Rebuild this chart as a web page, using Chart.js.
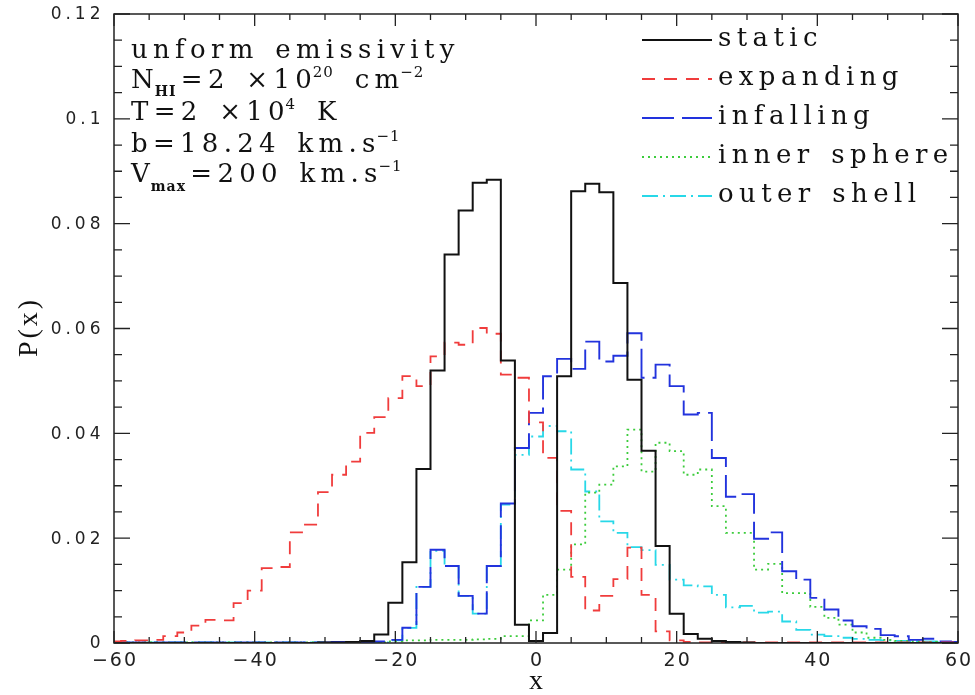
<!DOCTYPE html>
<html>
<head>
<meta charset="utf-8">
<script src="https://cdn.jsdelivr.net/npm/chart.js@4.4.1/dist/chart.umd.min.js"></script>
<style>
  html, body { margin: 0; padding: 0; background: #fff; }
  canvas { display: block; }
</style>
</head>
<body>
<canvas id="chart" width="975" height="695"></canvas>
<script>
// Bin centres, step 2, from -60 to 60
const xCenters = [
  -60, -58, -56, -54, -52, -50, -48, -46, -44, -42, -40, -38, -36, -34, -32, -30,
  -28, -26, -24, -22, -20, -18, -16, -14, -12, -10, -8, -6, -4, -2, 0,
  2, 4, 6, 8, 10, 12, 14, 16, 18, 20, 22, 24, 26, 28, 30,
  32, 34, 36, 38, 40, 42, 44, 46, 48, 50, 52, 54, 56, 58, 60,
];

// P(x) per bin
const staticVals = [
  0, 0, 0, 0, 0, 0, 0, 0, 0, 0, 0, 0, 0, 0, 0, 0.0001,
  0.0001, 0.0002, 0.0004, 0.0016, 0.0077, 0.0154, 0.0332, 0.0520, 0.0741, 0.0825, 0.0878, 0.0884, 0.0539, 0.0035, 0.0004,
  0.0019, 0.0509, 0.0862, 0.0876, 0.0860, 0.0687, 0.0502, 0.0367, 0.0185, 0.0056, 0.0017, 0.0008, 0.0004, 0.0002, 0.0001,
  0, 0, 0, 0, 0, 0, 0, 0, 0, 0, 0, 0, 0, 0, 0,
];
const expandingVals = [
  0.0003, 0.0004, 0.0005, 0.0006, 0.0013, 0.0020, 0.0033, 0.0044, 0.0043, 0.0076, 0.0100, 0.0143, 0.0145, 0.0211, 0.0226, 0.0288,
  0.0321, 0.0346, 0.0401, 0.0431, 0.0467, 0.0509, 0.0490, 0.0547, 0.0573, 0.0569, 0.0601, 0.0590, 0.0512, 0.0506, 0.0421,
  0.0353, 0.0252, 0.0126, 0.0062, 0.0090, 0.0122, 0.0182, 0.0092, 0.0022, 0.0005, 0.0002, 0.0001, 0.0001, 0.0001, 0.0001,
  0.0001, 0.0001, 0.0001, 0.0001, 0.0001, 0.0001, 0.0001, 0.0001, 0.0001, 0.0001, 0.0001, 0.0001, 0.0001, 0.0001, 0.0001,
];
const infallingVals = [
  0.0001, 0.0001, 0.0001, 0.0001, 0.0001, 0.0001, 0.0001, 0.0001, 0.0001, 0.0001, 0.0001, 0.0001, 0.0001, 0.0001, 0.0001, 0.0001,
  0.0002, 0.0002, 0.0002, 0.0003, 0.0006, 0.0029, 0.0107, 0.0178, 0.0147, 0.0090, 0.0056, 0.0147, 0.0266, 0.0372, 0.0439,
  0.0509, 0.0542, 0.0523, 0.0575, 0.0537, 0.0548, 0.0591, 0.0506, 0.0531, 0.0490, 0.0436, 0.0439, 0.0353, 0.0279, 0.0284,
  0.0199, 0.0211, 0.0137, 0.0121, 0.0086, 0.0064, 0.0043, 0.0032, 0.0027, 0.0015, 0.0013, 0.0006, 0.0008, 0.0003, 0.0002,
];
const innerSphereVals = [
  0.0001, 0.0001, 0.0001, 0.0001, 0.0001, 0.0001, 0.0001, 0.0001, 0.0001, 0.0001, 0.0001, 0.0001, 0.0001, 0.0001, 0.0001, 0.0001,
  0.0001, 0.0001, 0.0001, 0.0001, 0.0003, 0.0005, 0.0005, 0.0006, 0.0006, 0.0006, 0.0007, 0.0008, 0.0013, 0.0013, 0.0043,
  0.0092, 0.0140, 0.0188, 0.0287, 0.0302, 0.0337, 0.0407, 0.0327, 0.0382, 0.0366, 0.0321, 0.0331, 0.0261, 0.0210, 0.0210,
  0.0140, 0.0151, 0.0095, 0.0095, 0.0069, 0.0048, 0.0035, 0.0020, 0.0010, 0.0006, 0.0004, 0.0003, 0.0002, 0.0001, 0.0001,
];
const outerShellVals = [
  0.0001, 0.0001, 0.0001, 0.0001, 0.0001, 0.0001, 0.0001, 0.0001, 0.0001, 0.0001, 0.0001, 0.0001, 0.0001, 0.0001, 0.0001, 0.0001,
  0.0001, 0.0001, 0.0001, 0.0001, 0.0005, 0.0029, 0.0107, 0.0176, 0.0147, 0.0090, 0.0056, 0.0147, 0.0264, 0.0359, 0.0394,
  0.0414, 0.0404, 0.0331, 0.0289, 0.0232, 0.0210, 0.0183, 0.0177, 0.0149, 0.0121, 0.0110, 0.0108, 0.0092, 0.0068, 0.0071,
  0.0058, 0.0060, 0.0041, 0.0025, 0.0016, 0.0013, 0.0010, 0.0008, 0.0006, 0.0005, 0.0004, 0.0003, 0.0003, 0.0002, 0.0002,
];

const seriesNames = ["static", "expanding", "infalling", "inner sphere", "outer shell"];

// Axis ticks
const xTickValues = [-60, -40, -20, 0, 20, 40, 60];
const xTickLabels = ["\u221260", "\u221240", "\u221220", "0", "20", "40", "60"];
const yTickValues = [0, 0.02, 0.04, 0.06, 0.08, 0.1, 0.12];
const yTickLabels = ["0", "0.02", "0.04", "0.06", "0.08", "0.1", "0.12"];

// Styles
const styles = [
  { color: "#111111", width: 2, dash: [] },
  { color: "#f03c3c", width: 1.8, dash: [13, 9] },
  { color: "#2233dd", width: 1.9, dash: [32, 8] },
  { color: "#3ccc3c", width: 1.8, dash: [2, 4] },
  { color: "#28d8e8", width: 1.8, dash: [16, 5, 2, 5] },
];
const allVals = [staticVals, expandingVals, infallingVals, innerSphereVals, outerShellVals];

const datasets = allVals.map((vals, k) => ({
  label: seriesNames[k],
  data: xCenters.map((x, i) => ({ x, y: vals[i] })),
  stepped: "middle",
  borderColor: styles[k].color,
  borderWidth: styles[k].width,
  borderDash: styles[k].dash,
  pointRadius: 0,
  fill: false,
}));

const SERIF = "'DejaVu Serif', serif";
const SANS = "'DejaVu Sans', sans-serif";
const SPACE_EXTRA = 3;

// draw text char by char with extra spacing, returns x at end of last glyph
function spacedText(ctx, str, x, y, ls) {
  let first = true;
  for (const ch of str) {
    if (!first) x += ls;
    ctx.fillText(ch, x, y);
    x += ctx.measureText(ch).width + (ch === " " && ls > 3 ? SPACE_EXTRA : 0);
    first = false;
  }
  return x;
}
function spacedWidth(ctx, str, ls) {
  let w = 0;
  for (const ch of str) w += ctx.measureText(ch).width + ls;
  return w - ls;
}
// parts: [text, size, dy, bold]; small parts are sub/superscripts
function richLine(ctx, parts, x, y, ls) {
  parts.forEach(([t, size, dy, bold], i) => {
    const small = size < 20;
    if (i > 0) x += small ? 1 : ls;
    ctx.font = `${bold ? "bold " : ""}${size}px ${SERIF}`;
    x = spacedText(ctx, t, x, y + dy, small ? 1 : ls);
  });
}

const framePlugin = {
  id: "frame",
  afterDraw(chart) {
    const { ctx, chartArea: a, scales } = chart;
    const xs = scales.x, ys = scales.y;
    ctx.save();
    ctx.strokeStyle = "#222";
    ctx.fillStyle = "#111";
    ctx.lineWidth = 1.5;
    ctx.setLineDash([]);
    ctx.strokeRect(a.left, a.top, a.right - a.left, a.bottom - a.top);

    // ticks, pointing inwards on all four sides
    ctx.lineWidth = 1.3;
    ctx.beginPath();
    for (let v = -60; v <= 60; v += 5) {
      const px = xs.getPixelForValue(v);
      const len = v % 20 === 0 ? 12 : 6;
      ctx.moveTo(px, a.bottom); ctx.lineTo(px, a.bottom - len);
      ctx.moveTo(px, a.top); ctx.lineTo(px, a.top + len);
    }
    for (let i = 0; i <= 24; i++) {
      const py = ys.getPixelForValue(i * 0.005);
      const len = i % 4 === 0 ? 16 : 8;
      ctx.moveTo(a.left, py); ctx.lineTo(a.left + len, py);
      ctx.moveTo(a.right, py); ctx.lineTo(a.right - len, py);
    }
    ctx.stroke();

    // tick labels
    ctx.textBaseline = "middle";
    ctx.fillStyle = "#222";
    ctx.font = `19px ${SANS}`;
    xTickValues.forEach((v, i) => {
      const w = spacedWidth(ctx, xTickLabels[i], 2);
      spacedText(ctx, xTickLabels[i], xs.getPixelForValue(v) - w / 2, a.bottom + 18, 2);
    });
    ctx.font = `17px ${SANS}`;
    yTickValues.forEach((v, i) => {
      const w = spacedWidth(ctx, yTickLabels[i], 4);
      spacedText(ctx, yTickLabels[i], 100.5 - w, ys.getPixelForValue(v) + 1, 4);
    });

    // axis titles
    ctx.fillStyle = "#111";
    ctx.font = `28px 'Liberation Serif', serif`;
    const xt = "x";
    spacedText(ctx, xt, (a.left + a.right) / 2 - spacedWidth(ctx, xt, 0) / 2, 682, 0);
    ctx.save();
    ctx.translate(30, (a.top + a.bottom) / 2);
    ctx.rotate(-Math.PI / 2);
    const yt = "P(x)";
    spacedText(ctx, yt, -spacedWidth(ctx, yt, 3) / 2, 0, 3);
    ctx.restore();

    // annotation block
    ctx.textBaseline = "alphabetic";
    const ls = 5.3;
    const tx = 131;
    richLine(ctx, [["unform emissivity", 26, 0]], tx, 58, ls);
    richLine(ctx, [["N", 26, 0], ["HI", 14, 8, true], ["=2 \u00d710", 26, 0], ["20", 15, -11], [" cm", 26, 0], ["\u22122", 15, -11]], tx, 88, ls);
    richLine(ctx, [["T=2 \u00d710", 26, 0], ["4", 15, -11], [" K", 26, 0]], tx, 120, ls);
    richLine(ctx, [["b=18.24 km.s", 26, 0], ["\u22121", 15, -11]], tx, 152, ls);
    richLine(ctx, [["V", 26, 0], ["max", 14, 9, true], ["=200 km.s", 26, 0], ["\u22121", 15, -11]], tx, 182, ls);

    // legend
    const rowY = [40, 79, 118, 157, 196];
    seriesNames.forEach((name, k) => {
      const s = styles[k];
      ctx.strokeStyle = s.color;
      ctx.lineWidth = s.width;
      ctx.setLineDash(s.dash);
      ctx.beginPath();
      ctx.moveTo(642, rowY[k]);
      ctx.lineTo(712, rowY[k]);
      ctx.stroke();
      ctx.setLineDash([]);
      ctx.font = `26px ${SERIF}`;
      ctx.fillStyle = "#111";
      spacedText(ctx, name, 718, rowY[k] + 6, 5.4);
    });
    ctx.restore();
  },
};

new Chart(document.getElementById("chart"), {
  type: "line",
  data: { datasets },
  options: {
    responsive: false,
    animation: false,
    layout: { padding: { left: 114, right: 17, top: 14, bottom: 52 } },
    scales: {
      x: { type: "linear", min: -60, max: 60, display: false },
      y: { type: "linear", min: 0, max: 0.12, display: false },
    },
    plugins: { legend: { display: false }, tooltip: { enabled: false } },
    elements: { line: { tension: 0 } },
  },
  plugins: [framePlugin],
});
</script>
</body>
</html>
